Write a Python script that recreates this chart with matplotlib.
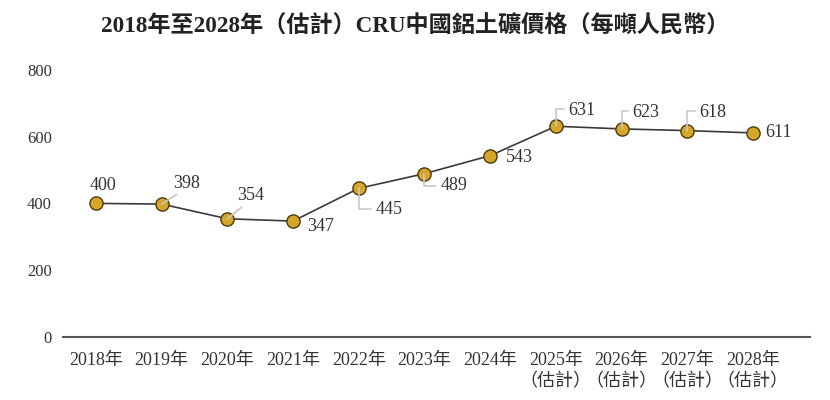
import matplotlib
matplotlib.use('Agg')
import matplotlib.pyplot as plt

plt.rcParams['font.family'] = ['Liberation Serif', 'Noto Sans CJK TC']

# bauxite price data (RMB per tonne)
years = ['2018年', '2019年', '2020年', '2021年', '2022年', '2023年', '2024年',
         '2025年\n（估計）', '2026年\n（估計）', '2027年\n（估計）', '2028年\n（估計）']
prices = [400, 398, 354, 347, 445, 489, 543, 631, 623, 618, 611]
y_ticks = [0, 200, 400, 600, 800]

# label offsets in points (left edge of text), and leader style for each point
offsets = [(5, 13), (8, 15), (7, 16.5), (10, -3.6), (12, -15), (11.5, -8.6), (11, -1.5),
           (8.6, 11), (8, 12), (8.6, 13), (8.6, 0)]
leaders = [None, 'arc3', 'arc3', None, 'angle', 'angle', None,
           'angle', 'angle', 'angle', None]

fig = plt.figure(figsize=(8.3, 4), dpi=100)
ax = fig.add_axes([0.076, 0.1575, 0.9, 0.668])

x = list(range(len(prices)))
ax.plot(x, prices, color='#3a3a3a', lw=1.2, zorder=2)
ax.plot(x, prices, 'o', ms=9.5, mfc='#d6a628', mec='#4a3a10', mew=1.0, zorder=3)

for i, (v, off, ld) in enumerate(zip(prices, offsets, leaders)):
    props = None
    if ld == 'arc3':
        props = dict(arrowstyle='-', color='#c8c8c8', lw=1.3, shrinkA=0, shrinkB=0,
                     relpos=(0.3, 0), connectionstyle='arc3')
    elif ld == 'angle':
        rp = (0, 0.5) if off[1] < 0 else (0, 0.6)
        props = dict(arrowstyle='-', color='#c8c8c8', lw=1.2, shrinkA=1, shrinkB=0,
                     relpos=rp, connectionstyle='angle,angleA=0,angleB=90,rad=0')
    ax.annotate(str(v), xy=(i, v), xytext=off, textcoords='offset points',
                ha='center' if i == 0 else 'left', va='center', fontsize=13,
                color='#333333', arrowprops=props, zorder=4)

ax.set_xlim(-0.5, 10.87)
ax.set_ylim(0, 800)
ax.set_xticks(x)
ax.set_xticklabels(years, fontsize=13, color='#333333', linespacing=1.25, va='top')
ax.set_yticks(y_ticks)
ax.set_yticklabels([str(t) for t in y_ticks], fontsize=12, color='#333333')
ax.tick_params(axis='both', length=0)
ax.tick_params(axis='y', pad=8)
ax.tick_params(axis='x', pad=11)

for s in ['top', 'right', 'left']:
    ax.spines[s].set_visible(False)
ax.spines['bottom'].set_color('#555555')
ax.spines['bottom'].set_linewidth(1.5)

fig.text(0.5, 0.937, '2018年至2028年（估計）CRU中國鋁土礦價格（每噸人民幣）',
         ha='center', va='center', fontsize=16.7, fontweight='bold', color='#222222')

fig.savefig('out.png', dpi=100)
